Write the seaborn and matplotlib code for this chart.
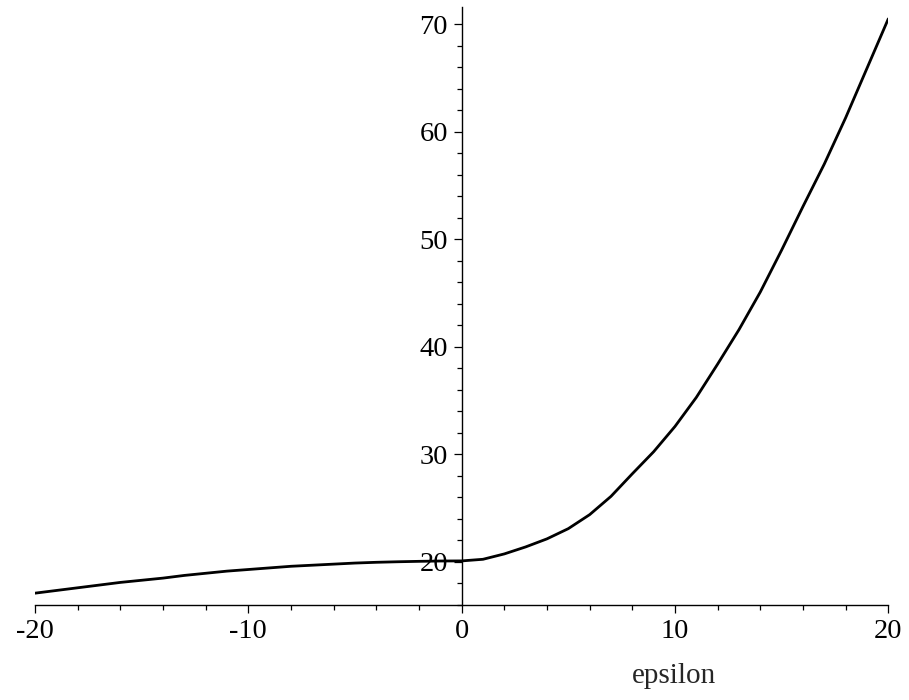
import matplotlib
matplotlib.use("Agg")
import matplotlib.pyplot as plt
import seaborn as sns
import pandas as pd
from matplotlib.ticker import MultipleLocator

# Data
epsilon = [-20, -19, -18, -17, -16, -15, -14, -13, -12, -11, -10, -9, -8, -7, -6, -5, -4, -3, -2, -1,
           0, 1, 2, 3, 4, 5, 6, 7, 8, 9, 10, 11, 12, 13, 14, 15, 16, 17, 18, 19, 20]
values = [17.1, 17.35, 17.6, 17.85, 18.1, 18.3, 18.5, 18.75, 18.95, 19.15, 19.3, 19.45, 19.6, 19.7, 19.8,
          19.9, 19.97, 20.02, 20.06, 20.09,
          20.1, 20.25, 20.75, 21.4, 22.15, 23.1, 24.4, 26.1, 28.2, 30.25, 32.6, 35.3, 38.4, 41.6, 45.1,
          49.0, 53.05, 57.0, 61.3, 65.9, 70.5]
x_ticks = [-20, -10, 0, 10, 20]
y_ticks = [20, 30, 40, 50, 60, 70]
x_label = "epsilon"

sns.set_style("white")
plt.rcParams["font.family"] = ["Liberation Serif", "DejaVu Serif"]
plt.rcParams["axes.unicode_minus"] = False

df = pd.DataFrame({"epsilon": epsilon, "value": values})

fig = plt.figure(figsize=(9.09, 7.00), dpi=100)
ax = fig.add_axes([35 / 909, 95 / 700, 853.3 / 909, 598 / 700])

sns.lineplot(data=df, x="epsilon", y="value", ax=ax, color="black", linewidth=2.0, estimator=None)

ax.set_xlim(-20, 20)
ax.set_ylim(16.0, 71.6)

for s in ["top", "right"]:
    ax.spines[s].set_visible(False)
ax.spines["left"].set_position(("data", 0))
ax.spines["bottom"].set_position(("data", 16.0))
for s in ["left", "bottom"]:
    ax.spines[s].set_linewidth(1.0)
    ax.spines[s].set_color("black")

ax.set_xticks(x_ticks)
ax.set_yticks(y_ticks)
ax.xaxis.set_minor_locator(MultipleLocator(2))
ax.yaxis.set_minor_locator(MultipleLocator(2))
ax.tick_params(axis="both", which="major", direction="out", length=6, width=0.9, color="black",
               labelsize=20.5, labelcolor="black")
ax.tick_params(axis="both", which="minor", direction="out", length=3.5, width=0.9, color="black")
ax.tick_params(axis="x", which="major", pad=4)
ax.tick_params(axis="y", which="major", pad=4)
ax.tick_params(axis="both", which="both", bottom=True, left=True)

ax.set_ylabel("")
ax.set_xlabel(x_label, fontsize=21)
ax.xaxis.set_label_coords(0.749, -0.097)
ax.grid(False)

fig.savefig("out.png", dpi=100)
